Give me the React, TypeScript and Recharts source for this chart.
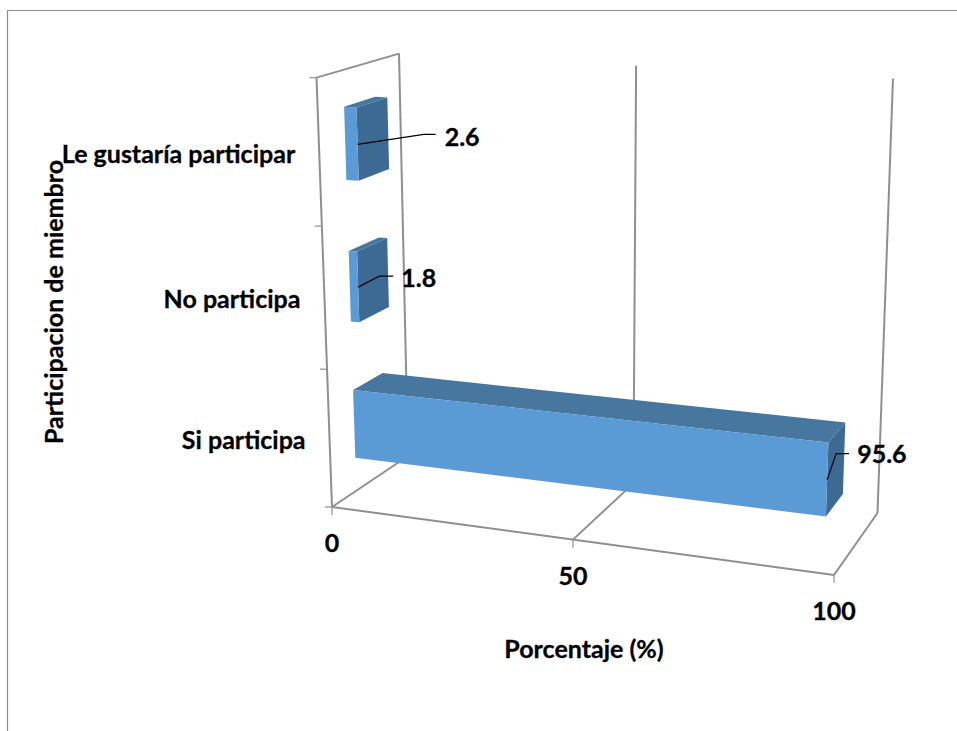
import React from "react"
import { BarChart, Bar, XAxis, YAxis, LabelList } from "recharts"

const categories = ["Le gustaría participar", "No participa", "Si participa"]
const values = [2.6, 1.8, 95.6]
const xTicks = [0, 50, 100]
const xTitle = "Porcentaje (%)"
const yTitle = "Participacion de miembro"

const data = categories.map((name, i) => ({ name, value: values[i] }))

const W = 957
const H = 731
const M = 100 // plot box inside the svg, everything gets projected from it
const plotW = W - 2 * M
const plotH = H - 2 * M

const font = "Lato, Carlito, sans-serif"
const fontSize = 25
const gridColor = "#8f8f8f"
const front = "#5b9bd5"
const topFace = "#47769f"
const sideFace = "#3d6a92"

// corners of the 3d box on screen: F = front, B = back, b = bottom, t = top, 0/1 = value axis
const Fb0 = [332, 507], Fb1 = [834, 575], Bb0 = [408, 456], Bb1 = [877.5, 513]
const Ft0 = [316.5, 77], Ft1 = [852, 104], Bt0 = [399, 53], Bt1 = [893, 78]

const mix = (a: number[], b: number[], t: number) => [a[0] + (b[0] - a[0]) * t, a[1] + (b[1] - a[1]) * t]

// u = value 0..1, h = height 0..1, d = depth 0..1
function project(u: number, h: number, d: number) {
  const tu = u * (0.92 + 0.08 * u)
  const th = h * (0.943 + 0.0555 * h)
  const bottom = mix(mix(Fb0, Fb1, tu), mix(Bb0, Bb1, tu), d)
  const top = mix(mix(Ft0, Ft1, tu), mix(Bt0, Bt1, tu), d)
  return mix(bottom, top, th)
}

const pts = (list: number[][]) => list.map((p) => `${p[0].toFixed(1)},${p[1].toFixed(1)}`).join(" ")
const toU = (px: number) => (px - M) / plotW
const toH = (py: number) => 1 - (py - M) / plotH

const depth0 = 0.32
const depth1 = 0.7

function Line3({ a, b, w = 2 }: { a: number[]; b: number[]; w?: number }) {
  return <line x1={a[0]} y1={a[1]} x2={b[0]} y2={b[1]} stroke={gridColor} strokeWidth={w} />
}

function Walls() {
  const bands = categories.length
  return (
    <g>
      <polyline points={`7.5,731 7.5,10.5 957,10.5`} fill="none" stroke={gridColor} strokeWidth={1.2} />
      {xTicks.map((t) => {
        const u = t / 100
        const f = project(u, 0, 0)
        return (
          <g key={t}>
            <Line3 a={f} b={project(u, 0, 1)} />
            <Line3 a={project(u, 0, 1)} b={project(u, 1, 1)} />
            <Line3 a={f} b={[f[0], f[1] + 8]} w={1.2} />
          </g>
        )
      })}
      <Line3 a={project(0, 0, 0)} b={project(1, 0, 0)} />
      <Line3 a={project(0, 0, 0)} b={project(0, 1, 0)} />
      <Line3 a={project(0, 1, 0)} b={project(0, 1, 1)} />
      {Array.from({ length: bands + 1 }, (_, i) => {
        const p = project(0, i / bands, 0)
        return <Line3 key={i} a={p} b={[p[0] - 7, p[1]]} w={1.2} />
      })}
    </g>
  )
}

function Bar3d(props: any) {
  const { x, y, width, height } = props
  const u = toU(x + width)
  const u0 = toU(x)
  const hi = toH(y)
  const lo = toH(y + height)
  const ftl = project(u0, hi, depth0)
  const ftr = project(u, hi, depth0)
  const fbl = project(u0, lo, depth0)
  const fbr = project(u, lo, depth0)
  const btl = project(u0, hi, depth1)
  const btr = project(u, hi, depth1)
  const bbr = project(u, lo, depth1)
  return (
    <g>
      <polygon points={pts([ftl, ftr, btr, btl])} fill={topFace} />
      <polygon points={pts([ftr, fbr, bbr, btr])} fill={sideFace} />
      <polygon points={pts([ftl, ftr, fbr, fbl])} fill={front} />
    </g>
  )
}

// leader line bends and text start, relative to the middle of the bar's right front edge
const leaders = [
  { knee: [66, -10], end: [78, -10], text: [87, -8] },
  { knee: [21, -11], end: [35, -11], text: [43, -10] },
  { knee: [9, -26], end: [22, -26], text: [30, -27] },
]

const labelStyle = {
  fontFamily: font,
  fontSize,
  fontWeight: 700,
  fill: "#000",
  stroke: "#000",
  strokeWidth: 0.3,
}

function DataLabel(props: any) {
  const { x, y, width, height, value, index } = props
  const s = project(toU(x + width), toH(y + height / 2), depth0)
  const l = leaders[index]
  return (
    <g>
      <polyline
        points={pts([s, [s[0] + l.knee[0], s[1] + l.knee[1]], [s[0] + l.end[0], s[1] + l.end[1]]])}
        fill="none"
        stroke="#000"
        strokeWidth={1.2}
      />
      <text x={s[0] + l.text[0]} y={s[1] + l.text[1]} dominantBaseline="central" style={labelStyle}>
        {value}
      </text>
    </g>
  )
}

function XTick(props: any) {
  const p = project(props.payload.value / 100, 0, 0)
  return (
    <text x={p[0]} y={p[1] + 35} textAnchor="middle" dominantBaseline="central" style={labelStyle}>
      {props.payload.value}
    </text>
  )
}

function YTick(props: any) {
  const p = project(0, toH(props.y), 0)
  return (
    <text x={p[0] - 24} y={p[1]} textAnchor="end" dominantBaseline="central" style={labelStyle}>
      {props.payload.value}
    </text>
  )
}

function Titles() {
  return (
    <g>
      <text x={584} y={648} textAnchor="middle" dominantBaseline="central" style={labelStyle}>{xTitle}</text>
      <text x={53} y={302} textAnchor="middle" dominantBaseline="central" transform="rotate(-90 53 302)" style={labelStyle}>{yTitle}</text>
    </g>
  )
}

export default function App() {
  return (
    <div style={{ position: "absolute", left: 0, top: 0, width: W, height: H, background: "#fff" }}>
      <BarChart
        width={W}
        height={H}
        data={data}
        layout="vertical"
        margin={{ top: M, right: M, bottom: M - 1, left: M - 1 }}
        barCategoryGap="25%"
      >
        <Walls />
        <XAxis type="number" domain={[0, 100]} ticks={xTicks} height={1} axisLine={false} tickLine={false} tick={<XTick />} />
        <YAxis type="category" dataKey="name" width={1} axisLine={false} tickLine={false} tick={<YTick />} interval={0} />
        <Bar dataKey="value" shape={<Bar3d />} isAnimationActive={false}>
          <LabelList dataKey="value" content={<DataLabel />} />
        </Bar>
        <Titles />
      </BarChart>
    </div>
  )
}
